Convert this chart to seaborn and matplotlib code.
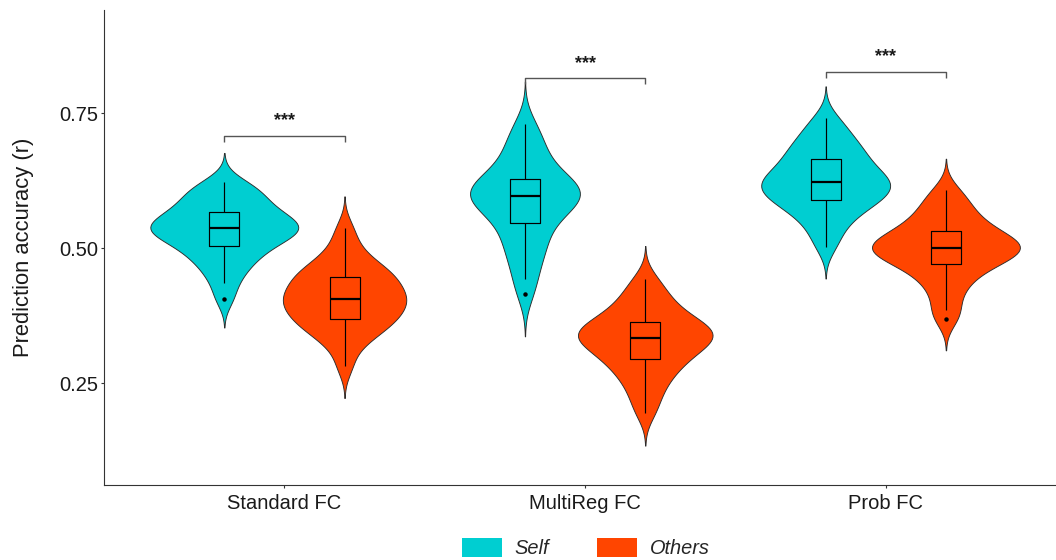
import numpy as np
import pandas as pd
import matplotlib
matplotlib.use("Agg")
import matplotlib.pyplot as plt
from matplotlib.patches import Patch
import seaborn as sns

# ---- data -------------------------------------------------------------
categories = ["Standard FC", "MultiReg FC", "Prob FC"]
groups = ["Self", "Others"]

standard_self = [0.407, 0.436, 0.455, 0.469, 0.480, 0.489, 0.497, 0.505, 0.511, 0.517,
                 0.522, 0.527, 0.531, 0.534, 0.537, 0.540, 0.544, 0.548, 0.553, 0.558,
                 0.563, 0.568, 0.575, 0.582, 0.590, 0.598, 0.606, 0.614, 0.623]
standard_others = [0.282, 0.316, 0.332, 0.343, 0.351, 0.358, 0.364, 0.370, 0.376, 0.382,
                   0.388, 0.393, 0.398, 0.403, 0.407, 0.412, 0.417, 0.423, 0.429, 0.435,
                   0.441, 0.447, 0.453, 0.459, 0.466, 0.475, 0.488, 0.508, 0.537]
multireg_self = [0.415, 0.444, 0.468, 0.488, 0.503, 0.516, 0.530, 0.546, 0.556, 0.565,
                 0.573, 0.580, 0.586, 0.591, 0.596, 0.600, 0.604, 0.608, 0.613, 0.618,
                 0.623, 0.628, 0.638, 0.650, 0.663, 0.677, 0.692, 0.710, 0.731]
multireg_others = [0.195, 0.220, 0.240, 0.255, 0.268, 0.278, 0.287, 0.295, 0.302, 0.309,
                   0.315, 0.321, 0.326, 0.330, 0.334, 0.338, 0.342, 0.346, 0.350, 0.355,
                   0.359, 0.364, 0.371, 0.379, 0.388, 0.398, 0.410, 0.425, 0.444]
prob_self = [0.503, 0.527, 0.545, 0.558, 0.569, 0.577, 0.583, 0.589, 0.595, 0.600,
             0.605, 0.610, 0.614, 0.618, 0.622, 0.627, 0.632, 0.637, 0.643, 0.649,
             0.657, 0.665, 0.672, 0.680, 0.688, 0.698, 0.709, 0.723, 0.741]
prob_others = [0.369, 0.386, 0.412, 0.430, 0.444, 0.455, 0.464, 0.471, 0.477, 0.482,
               0.487, 0.491, 0.495, 0.498, 0.501, 0.504, 0.508, 0.512, 0.516, 0.521,
               0.526, 0.532, 0.539, 0.547, 0.556, 0.566, 0.578, 0.592, 0.608]

# significance brackets (height in r units) and labels
bracket_heights = [0.708, 0.815, 0.827]
bracket_labels = ["***", "***", "***"]

# ---- style ------------------------------------------------------------
palette = {"Self": "#00CED1", "Others": "#FF4500"}
dodge_offset = {"Self": -0.2, "Others": 0.2}

sns.set_theme(style="white")
plt.rcParams["font.family"] = ["Liberation Sans", "DejaVu Sans"]

series = {
    ("Standard FC", "Self"): standard_self,
    ("Standard FC", "Others"): standard_others,
    ("MultiReg FC", "Self"): multireg_self,
    ("MultiReg FC", "Others"): multireg_others,
    ("Prob FC", "Self"): prob_self,
    ("Prob FC", "Others"): prob_others,
}

rows = []
for i, cat in enumerate(categories):
    for g in groups:
        for v in series[(cat, g)]:
            rows.append({"category": cat, "group": g,
                         "pos": i + dodge_offset[g], "value": v})
df = pd.DataFrame(rows)

fig = plt.figure(figsize=(10.56, 5.6), dpi=100)
ax = fig.add_axes([104 / 1056, 1 - 485 / 560, (1056 - 104) / 1056, (485 - 10) / 560])

sns.violinplot(data=df, x="pos", y="value", hue="group", hue_order=groups,
               palette=palette, native_scale=True, dodge=False, inner=None,
               cut=2.6, bw_method=0.39, density_norm="area", width=1.23,
               linewidth=0.65, linecolor="#2b2b2b", saturation=1, legend=False, ax=ax)

sns.boxplot(data=df, x="pos", y="value", native_scale=True, color="black",
            fill=False, width=0.25, linewidth=0.85, showcaps=False, fliersize=2.2,
            flierprops=dict(marker="o", markerfacecolor="black",
                            markeredgecolor="black"),
            medianprops=dict(linewidth=1.6, color="black"), ax=ax)

# significance brackets
tick_drop = 0.011
for i, (h, lab) in enumerate(zip(bracket_heights, bracket_labels)):
    x0, x1 = i + dodge_offset["Self"], i + dodge_offset["Others"]
    ax.plot([x0, x0, x1, x1], [h - tick_drop, h, h, h - tick_drop],
            color="#555555", lw=1.0, solid_capstyle="butt", clip_on=False)
    ax.text(i, h + 0.012, lab, ha="center", va="bottom", fontsize=13,
            fontweight="bold", color="#1a1a1a")

ax.set_xlim(-0.6, 2.566)
ax.set_ylim(0.0617, 0.9413)
ax.set_xticks(range(len(categories)))
ax.set_xticklabels(categories)
ax.set_yticks([0.25, 0.50, 0.75])
ax.set_yticklabels(["0.25", "0.50", "0.75"])
ax.set_xlabel("")
ax.set_ylabel("Prediction accuracy (r)", fontsize=15.8, color="#1a1a1a")
ax.yaxis.set_label_coords(-0.074, 0.5)

ax.tick_params(axis="both", which="major", length=2.5, width=0.8,
               color="#333333", labelsize=14.5, labelcolor="#1a1a1a")
ax.tick_params(axis="x", pad=4)
ax.tick_params(axis="y", pad=2)
ax.tick_params(bottom=True, left=True)

for side in ["top", "right"]:
    ax.spines[side].set_visible(False)
for side in ["left", "bottom"]:
    ax.spines[side].set_color("#333333")
    ax.spines[side].set_linewidth(0.8)

handles = [Patch(facecolor=palette[g], edgecolor="none", label=g) for g in groups]
leg = fig.legend(handles=handles, loc="center", bbox_to_anchor=(586 / 1056, 0.021),
                 ncol=2, frameon=False, handlelength=2.0, handleheight=1.05,
                 handletextpad=0.65, columnspacing=2.4,
                 prop={"size": 14.4, "style": "italic"})

fig.savefig("out.png", dpi=100)
